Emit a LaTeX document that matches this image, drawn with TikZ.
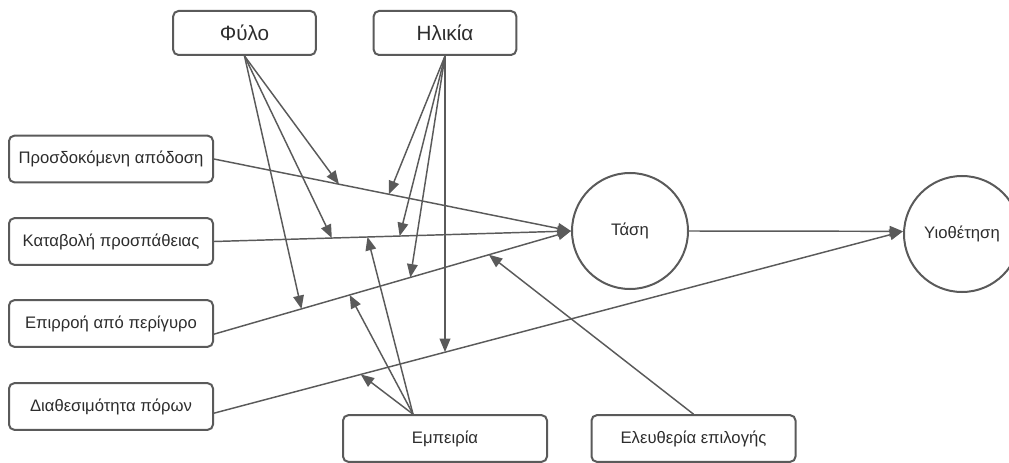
\documentclass[tikz,border=0pt]{standalone}
\usepackage{fontspec}
\setmainfont{Liberation Sans}
\usetikzlibrary{arrows.meta,calc}
\definecolor{lncol}{RGB}{90,90,90}
\definecolor{txcol}{RGB}{45,45,45}

\begin{document}
\begin{tikzpicture}[x=0.75pt,y=0.75pt,yscale=-1,xscale=1,
  varbox/.style={draw=lncol,line width=1.5pt,rounded corners=4pt,fill=white,text=txcol,minimum width=153pt,minimum height=35pt,inner sep=0pt,font=\fontsize{12.5}{14}\selectfont},
  topbox/.style={varbox,minimum width=107pt,minimum height=33pt,font=\fontsize{15.5}{18}\selectfont},
  latent/.style={draw=lncol,line width=1.5pt,circle,minimum size=87pt,inner sep=0pt,text=txcol,font=\fontsize{12.5}{14}\selectfont},
  path/.style={draw=lncol,line width=1.1pt,-{Triangle[length=10pt,width=8pt]}}]
\useasboundingbox (0,0) rectangle (1009,463);

% Nodes: moderators
\node[topbox] (fylo) at (244.5,33) {Φύλο};
\node[topbox] (ilik) at (445,33) {Ηλικία};
\node[varbox] (emp) at (445,438.5) {Εμπειρία};
\node[varbox] (eleuth) at (693.5,438.5) {Ελευθερία επιλογής};

% Nodes: predictors
\node[varbox] (prosd) at (111,159) {Προσδοκόμενη απόδοση};
\node[varbox] (katab) at (111,241.5) {Καταβολή προσπάθειας};
\node[varbox] (epirr) at (111,323.5) {Επιρροή από περίγυρο};
\node[varbox] (diath) at (111,406.5) {Διαθεσιμότητα πόρων};

% Nodes: outcomes
\node[latent] (tasi) at (630,231) {Τάση};
\node[latent] (yiot) at (962,234) {Υιοθέτηση};

% Main paths
\coordinate (epirr-out) at ([yshift=8pt]epirr.east);
\coordinate (diath-out) at ([yshift=5pt]diath.east);
\coordinate (yiot-in) at ([yshift=-2pt]yiot.west);
\draw[path] (prosd.east) -- (tasi.west);
\draw[path] (katab.east) -- (tasi.west);
\draw[path] (epirr-out) -- (tasi.west);
\draw[path] (diath-out) -- (yiot-in);
\draw[path] (tasi.east) -- (yiot-in);

% Points on the paths
\coordinate (p1) at ($(prosd.east)!0.35!(tasi.west)$);
\coordinate (p2) at ($(prosd.east)!0.49!(tasi.west)$);
\coordinate (k1) at ($(katab.east)!0.33!(tasi.west)$);
\coordinate (k2) at ($(katab.east)!0.43!(tasi.west)$);
\coordinate (k3) at ($(katab.east)!0.52!(tasi.west)$);
\coordinate (e1) at ($(epirr-out)!0.245!(tasi.west)$);
\coordinate (e2) at ($(epirr-out)!0.38!(tasi.west)$);
\coordinate (e3) at ($(epirr-out)!0.55!(tasi.west)$);
\coordinate (e4) at ($(epirr-out)!0.77!(tasi.west)$);
\coordinate (d1) at ($(diath-out)!0.213!(yiot-in)$);
\coordinate (d2) at ($(diath-out)!0.336!(yiot-in)$);

% Moderating paths
\coordinate (emp-out) at ([xshift=-24pt]emp.north);
\draw[path] (fylo.south) -- (p1);
\draw[path] (fylo.south) -- (k1);
\draw[path] (fylo.south) -- (e1);
\draw[path] (ilik.south) -- (p2);
\draw[path] (ilik.south) -- (k3);
\draw[path] (ilik.south) -- (e3);
\draw[path] (ilik.south) -- (ilik.south |- d2);
\draw[path] (emp-out) -- (k2);
\draw[path] (emp-out) -- (e2);
\draw[path] (emp-out) -- (d1);
\draw[path] (eleuth.north) -- (e4);

\end{tikzpicture}
\end{document}
